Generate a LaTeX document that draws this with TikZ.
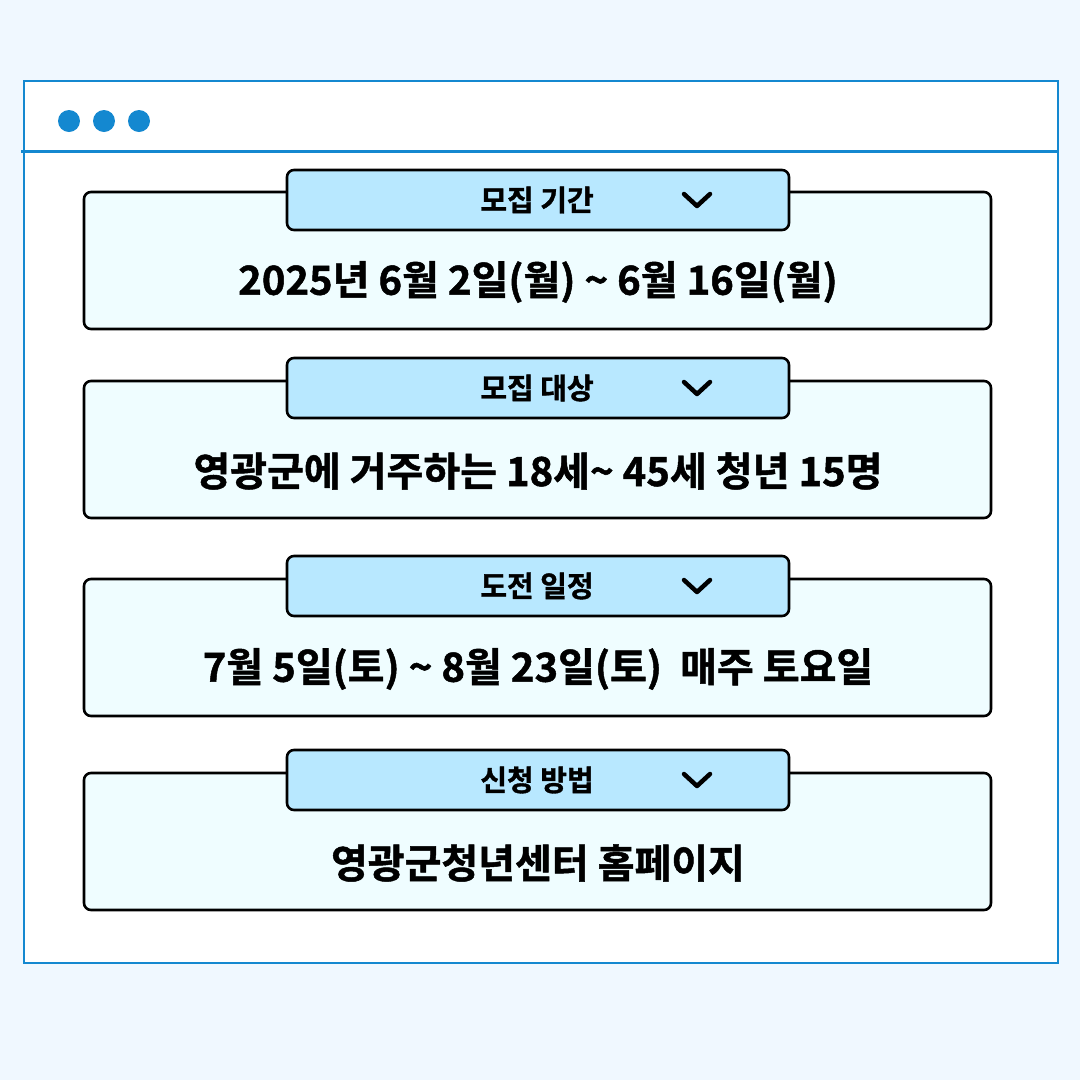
\documentclass[tikz,border=0pt]{standalone}
\usepackage{fontspec}
\newfontfamily\kr{Noto Sans CJK KR}[BoldFont={Noto Sans CJK KR Bold},BoldFeatures={FakeBold=1.2}]
\newcommand{\tld}{\char"007E\relax}
\definecolor{bgc}{HTML}{F0F8FF}
\definecolor{winblue}{HTML}{1488D0}
\definecolor{boxfill}{HTML}{EFFDFF}
\definecolor{tabfill}{HTML}{B8E8FF}
\tikzset{
  infobox/.style={draw=black, line width=2.6pt, fill=boxfill, rounded corners=7pt},
  tabbox/.style={draw=black, line width=2.6pt, fill=tabfill, rounded corners=7pt},
  tabtext/.style={font=\kr\bfseries\fontsize{29}{34}\selectfont, inner sep=0pt, anchor=center},
  maintext/.style={font=\kr\bfseries\fontsize{40}{47}\selectfont, inner sep=0pt, anchor=center},
  chev/.style={line width=4.5pt, line cap=round, line join=round},
  dot/.style={circle, fill=winblue, inner sep=0pt, minimum size=22pt}
}
\begin{document}
\begin{tikzpicture}[x=1pt,y=-1pt]
\fill[bgc] (0,0) rectangle (1080,1080);
\useasboundingbox (0,0) rectangle (1080,1080);
% window
\draw[winblue, line width=2.6pt, fill=white] (24,81) rectangle (1058,963);
\draw[winblue, line width=3pt] (21,151) -- (1058,151);
\node[dot] (d1) at (69,121) {};
\node[dot] (d2) at (104,121) {};
\node[dot] (d3) at (139,121) {};
% sections
\foreach \by/\ty/\lab/\txt [count=\i] in {
  192/170/{모집 기간}/{2025년 6월 2일(월) \tld{} 6월 16일(월)},
  381/358/{모집 대상}/{영광군에 거주하는 18세\tld{} 45세 청년 15명},
  579/556/{도전 일정}/{7월 5일(토) \tld{} 8월 23일(토)\ \ 매주 토요일},
  773/750/{신청 방법}/{영광군청년센터 홈페이지}}{
  \draw[infobox] (84,\by) rectangle (991,\by+137);
  \draw[tabbox] (287,\ty) rectangle (789,\ty+60);
  \node[tabtext] (lab\i) at (537,\ty+30) {\lab};
  \node[maintext] (txt\i) at (538,\by+90) {\txt};
  \coordinate (ca\i) at (684,\ty+24);
  \coordinate (cb\i) at (697,\ty+36);
  \coordinate (cc\i) at (710,\ty+24);
  \draw[chev] (ca\i) -- (cb\i) -- (cc\i);
}
\end{tikzpicture}
\end{document}
